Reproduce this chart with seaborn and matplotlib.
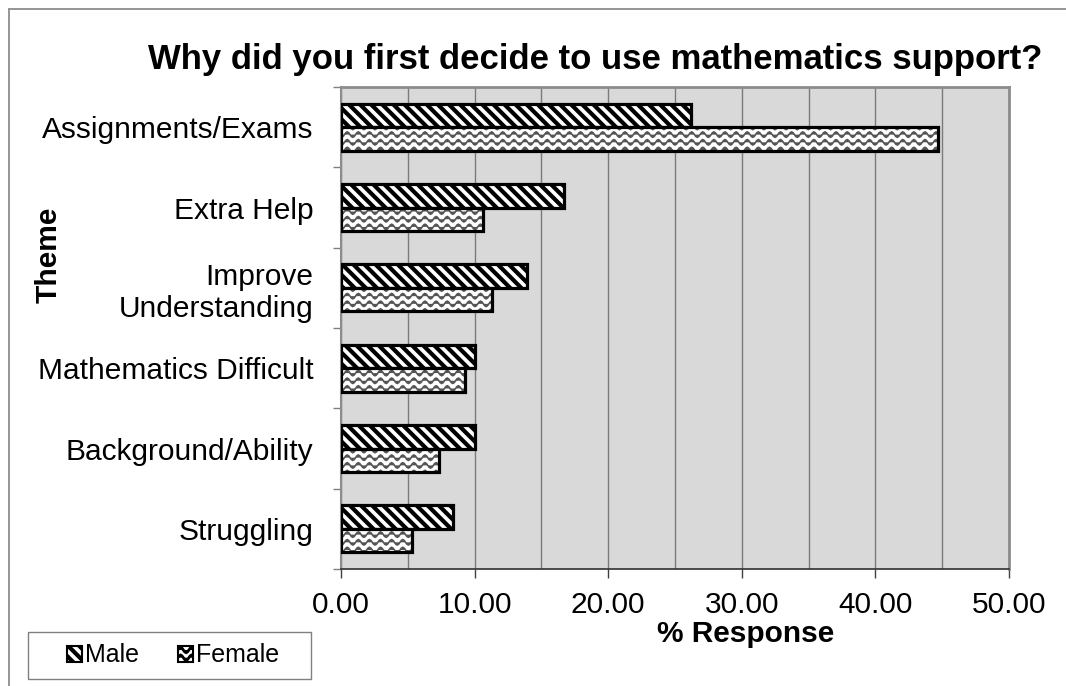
import warnings
import numpy as np
import pandas as pd
import matplotlib
matplotlib.use("Agg")
import matplotlib.pyplot as plt
import matplotlib.hatch as mhatch
from matplotlib.path import Path
from matplotlib.patches import Patch, Rectangle
from matplotlib.lines import Line2D
from matplotlib.ticker import FixedLocator, FormatStrFormatter
from matplotlib.colors import to_rgba
import seaborn as sns

warnings.filterwarnings("ignore")

# ---- data -------------------------------------------------------------
themes = ["Assignments/Exams", "Extra Help", "Improve\nUnderstanding",
          "Mathematics Difficult", "Background/Ability", "Struggling"]
genders = ["Male", "Female"]
male_pct = [26.2, 16.7, 13.9, 10.0, 10.0, 8.4]
female_pct = [44.7, 10.6, 11.3, 9.3, 7.3, 5.3]
x_ticks = [0, 10, 20, 30, 40, 50]

df = pd.DataFrame({
    "Theme": themes * 2,
    "Gender": ["Male"] * len(themes) + ["Female"] * len(themes),
    "Response": male_pct + female_pct,
})


# ---- wavy hatch pattern ('~') ----------------------------------------
class WaveHatch(mhatch.HatchPatternBase):
    def __init__(self, hatch, density):
        n = hatch.count("~")
        self.rows = 13 * n
        self.waves = 9
        self.pts = self.waves * 8 + 1
        self.num_vertices = self.rows * self.pts if n else 0

    def set_vertices_and_codes(self, vertices, codes):
        x = np.linspace(0.0, 1.0, self.pts)
        wiggle = 0.027 * np.sin(2 * np.pi * self.waves * x)
        for i in range(self.rows):
            y0 = (i + 0.5) / self.rows
            s = slice(i * self.pts, (i + 1) * self.pts)
            vertices[s, 0] = x
            vertices[s, 1] = y0 + wiggle
            codes[i * self.pts] = Path.MOVETO
            codes[i * self.pts + 1:(i + 1) * self.pts] = Path.LINETO


mhatch._hatch_types.append(WaveHatch)
mhatch._validate_hatch_pattern = lambda h: None

# ---- style -----------------------------------------------------------
sns.set_theme(style="white")
plt.rcParams["font.family"] = ["Liberation Sans", "DejaVu Sans"]
plt.rcParams["text.color"] = "black"
plt.rcParams["hatch.linewidth"] = 2.8

FS = 21.5

fig = plt.figure(figsize=(10.66, 6.86), dpi=100)
ax = fig.add_axes([341 / 1066, 1 - 569 / 686, 668 / 1066, 482 / 686])
ax.set_facecolor("#d9d9d9")

sns.barplot(data=df, y="Theme", x="Response", hue="Gender",
            hue_order=genders, order=themes, orient="h",
            palette=["white", "white"], edgecolor="black", linewidth=2.3,
            width=0.585, gap=0, saturation=1, legend=False, ax=ax, zorder=3)

hatches = {"Male": "\\\\\\", "Female": "~"}
hatch_lw = {"Male": 3.0, "Female": 1.2}
hatch_col = {"Male": "black", "Female": "#555555"}
for container, g in zip(ax.containers, genders):
    for bar in container:
        if hasattr(bar, "set_hatch_linewidth"):
            bar.set_hatch_linewidth(hatch_lw[g])
        bar.set_hatch(hatches[g])
        bar.set_edgecolor("black")
        bar._hatch_color = to_rgba(hatch_col[g])

# ---- axes ------------------------------------------------------------
ax.set_xlim(0, 50)
ax.xaxis.set_major_locator(FixedLocator(x_ticks))
ax.xaxis.set_minor_locator(FixedLocator(np.arange(5, 50, 10)))
ax.xaxis.set_major_formatter(FormatStrFormatter("%.2f"))
ax.grid(True, axis="x", which="both", color="#7a7a7a", linewidth=1.0, zorder=0)
ax.set_axisbelow(True)

ax.yaxis.set_minor_locator(FixedLocator(np.arange(-0.5, len(themes), 1.0)))
ax.tick_params(axis="y", which="major", length=0, pad=20, labelsize=FS,
               labelcolor="black")
ax.tick_params(axis="y", which="minor", left=True, length=6, width=1.0,
               color="#808080", direction="out")
ax.tick_params(axis="x", which="major", bottom=True, length=6.5, width=1.0,
               color="#404040", direction="out", pad=9, labelsize=FS,
               labelcolor="black")
ax.tick_params(axis="x", which="minor", length=0)
for lbl in ax.get_yticklabels():
    lbl.set_horizontalalignment("right")
    lbl.set_multialignment("right")

for side in ["top", "right"]:
    ax.spines[side].set_visible(True)
    ax.spines[side].set_color("#8c8c8c")
    ax.spines[side].set_linewidth(2.0)
ax.spines["left"].set_color("#8c8c8c")
ax.spines["left"].set_linewidth(1.5)
ax.spines["bottom"].set_color("#303030")
ax.spines["bottom"].set_linewidth(1.2)

ax.set_xlabel("% Response", fontsize=FS, fontweight="bold", color="black")
ax.xaxis.label.set_verticalalignment("center")
ax.xaxis.set_label_coords((746 - 341) / 668, -(634 - 569) / 482)
ax.set_ylabel("Theme", fontsize=FS, fontweight="bold", color="black")
ax.yaxis.label.set_verticalalignment("center")
ax.yaxis.set_label_coords((49 - 341) / 668, (569 - 255) / 482)

fig.text(595.5 / 1066, 1 - 60 / 686,
         "Why did you first decide to use mathematics support?",
         ha="center", va="center", fontsize=25, fontweight="bold",
         color="black")

# ---- legend ----------------------------------------------------------
handles = [Patch(facecolor="white", edgecolor="black", linewidth=1.5,
                 hatch=hatches[g], label=g) for g in genders]
leg = fig.legend(handles=handles, loc="center left", ncol=2,
                 bbox_to_anchor=(67 / 1066, 1 - 655.5 / 686),
                 fontsize=18, frameon=False,
                 handlelength=0.6, handleheight=0.6, handletextpad=0.12,
                 columnspacing=1.56, borderpad=0, borderaxespad=0)
legend_hatch_lw = {"Male": 3.0, "Female": 2.0}
for h, g in zip(leg.legend_handles, genders):
    if hasattr(h, "set_hatch_linewidth"):
        h.set_hatch_linewidth(legend_hatch_lw[g])
    h._hatch_color = to_rgba("black")
fig.add_artist(Rectangle((27.5 / 1066, 1 - 679 / 686), 283 / 1066, 47 / 686,
                         transform=fig.transFigure, facecolor="white",
                         edgecolor="#808080", linewidth=1.0, zorder=0))

# ---- outer frame lines -----------------------------------------------
fig.add_artist(Line2D([8.5 / 1066, 8.5 / 1066], [0, 1 - 9 / 686],
                      transform=fig.transFigure, color="#8c8c8c", lw=1.3))
fig.add_artist(Line2D([8.5 / 1066, 1], [1 - 9 / 686, 1 - 9 / 686],
                      transform=fig.transFigure, color="#8c8c8c", lw=1.3))

fig.savefig("out.png", dpi=100)
